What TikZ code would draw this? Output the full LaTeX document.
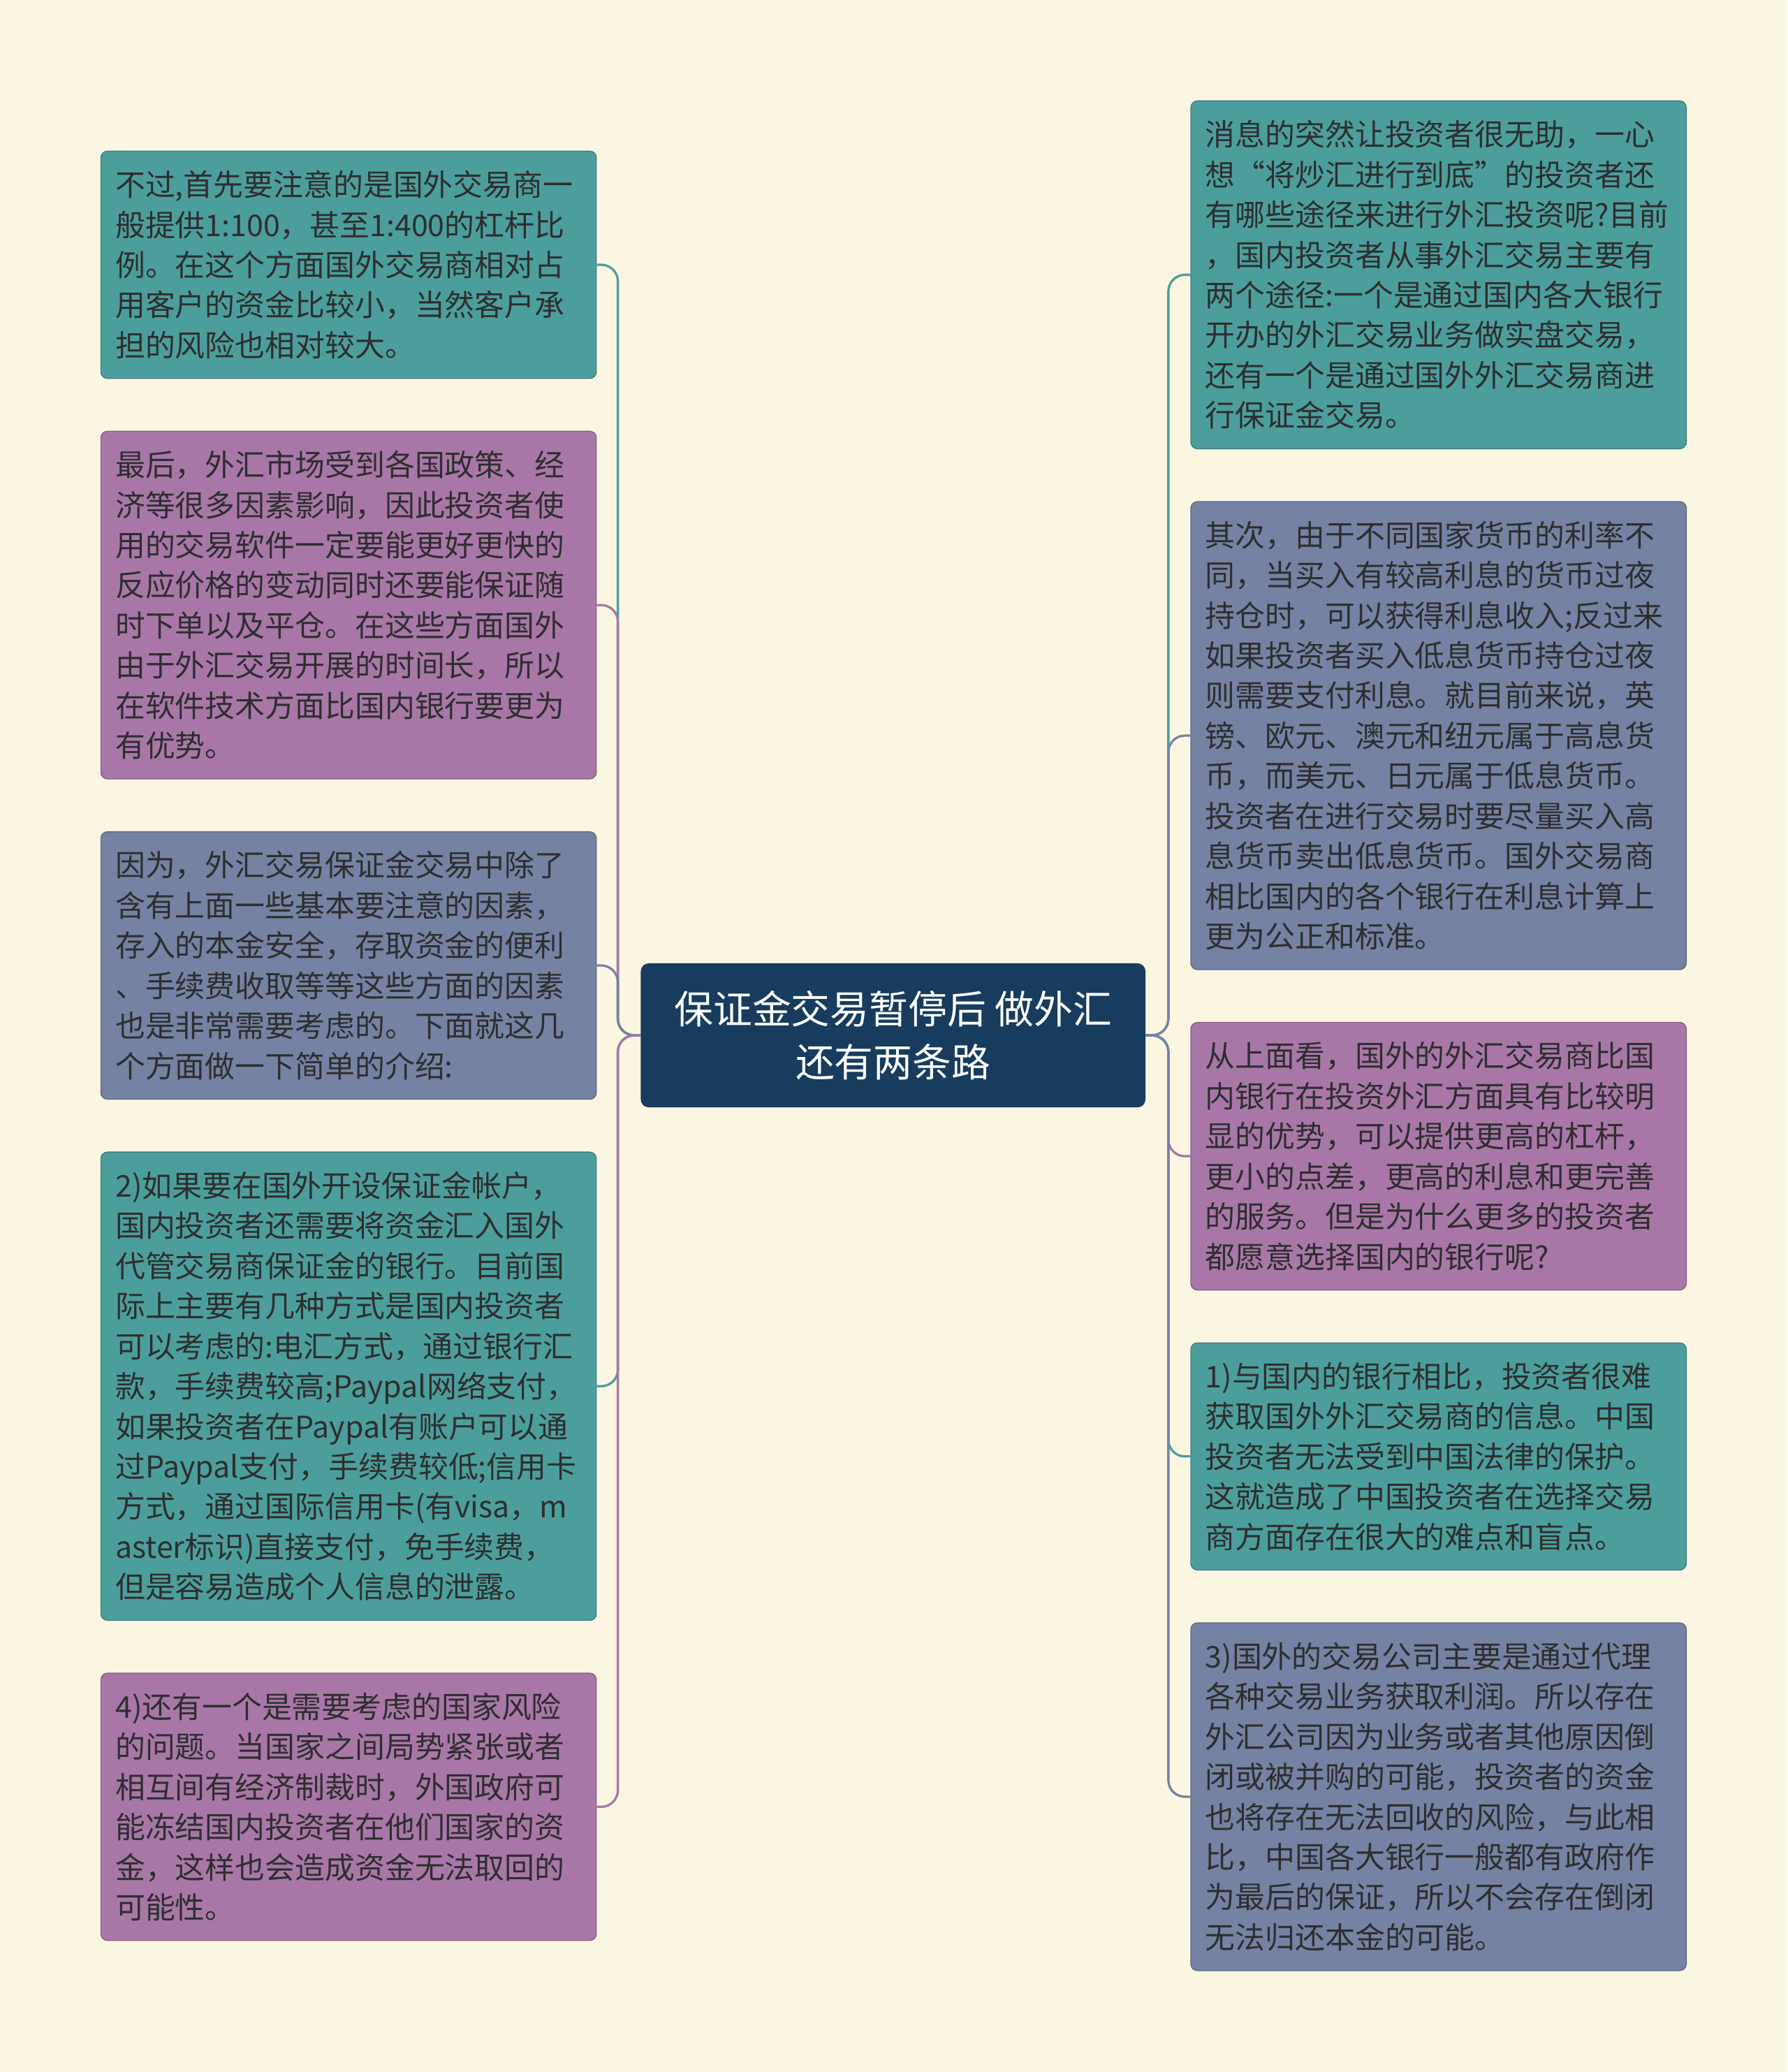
\documentclass[tikz,border=0pt]{standalone}
\usepackage{fontspec}
\newfontfamily\cjkfont{Noto Sans CJK SC}
\usetikzlibrary{positioning}
\usepackage{xcolor}
\definecolor{bgcream}{HTML}{FBF6E1}
\definecolor{tealbox}{HTML}{4C9E9D}
\definecolor{plumbox}{HTML}{A877A8}
\definecolor{slatebox}{HTML}{7582A3}
\definecolor{navybox}{HTML}{173C5D}
\definecolor{inktext}{HTML}{2E2E2E}

\begin{document}
\begin{tikzpicture}[
    leaf/.style={rounded corners=0.1cm, draw=#1!80!black, line width=0.4pt, fill=#1,
        text=inktext, align=left, text width=7.06cm, inner xsep=0.22cm, inner ysep=0.295cm,
        font={\cjkfont\fontsize{12.9}{17.28}\selectfont}},
    hub/.style={rounded corners=0.12cm, fill=navybox, text=white, align=center,
        minimum width=7.64cm, minimum height=2.18cm,
        font={\cjkfont\fontsize{16.8}{22.8}\selectfont}},
    link/.style={draw=#1, line width=1pt, rounded corners=0.25cm}
]
    % Background
    \fill[bgcream] (0,0) rectangle (27.06,-31.36);

    % Central topic
    \node[hub] (hub) at (13.52,-15.67) {保证金交易暂停后 做外汇\\还有两条路};

    % Left branch
    \node[leaf=tealbox, anchor=north west] (lone) at (1.52,-2.28)
        {不过,首先要注意的是国外交易商一\\般提供1:100，甚至1:400的杠杆比\\例。在这个方面国外交易商相对占\\用客户的资金比较小，当然客户承\\担的风险也相对较大。};
    \node[leaf=plumbox, below=0.785cm of lone] (ltwo)
        {最后，外汇市场受到各国政策、经\\济等很多因素影响，因此投资者使\\用的交易软件一定要能更好更快的\\反应价格的变动同时还要能保证随\\时下单以及平仓。在这些方面国外\\由于外汇交易开展的时间长，所以\\在软件技术方面比国内银行要更为\\有优势。};
    \node[leaf=slatebox, below=0.785cm of ltwo] (lthree)
        {因为，外汇交易保证金交易中除了\\含有上面一些基本要注意的因素，\\存入的本金安全，存取资金的便利\\、手续费收取等等这些方面的因素\\也是非常需要考虑的。下面就这几\\个方面做一下简单的介绍:};
    \node[leaf=tealbox, below=0.785cm of lthree] (lfour)
        {2)如果要在国外开设保证金帐户，\\国内投资者还需要将资金汇入国外\\代管交易商保证金的银行。目前国\\际上主要有几种方式是国内投资者\\可以考虑的:电汇方式，通过银行汇\\款，手续费较高;Paypal网络支付，\\如果投资者在Paypal有账户可以通\\过Paypal支付，手续费较低;信用卡\\方式，通过国际信用卡(有visa，m\\aster标识)直接支付，免手续费，\\但是容易造成个人信息的泄露。};
    \node[leaf=plumbox, below=0.785cm of lfour] (lfive)
        {4)还有一个是需要考虑的国家风险\\的问题。当国家之间局势紧张或者\\相互间有经济制裁时，外国政府可\\能冻结国内投资者在他们国家的资\\金，这样也会造成资金无法取回的\\可能性。};

    % Right branch
    \node[leaf=tealbox, anchor=north west] (rone) at (18.02,-1.52)
        {消息的突然让投资者很无助，一心\\想“将炒汇进行到底”的投资者还\\有哪些途径来进行外汇投资呢?目前\\，国内投资者从事外汇交易主要有\\两个途径:一个是通过国内各大银行\\开办的外汇交易业务做实盘交易，\\还有一个是通过国外外汇交易商进\\行保证金交易。};
    \node[leaf=slatebox, below=0.785cm of rone] (rtwo)
        {其次，由于不同国家货币的利率不\\同，当买入有较高利息的货币过夜\\持仓时，可以获得利息收入;反过来\\如果投资者买入低息货币持仓过夜\\则需要支付利息。就目前来说，英\\镑、欧元、澳元和纽元属于高息货\\币，而美元、日元属于低息货币。\\投资者在进行交易时要尽量买入高\\息货币卖出低息货币。国外交易商\\相比国内的各个银行在利息计算上\\更为公正和标准。};
    \node[leaf=plumbox, below=0.785cm of rtwo] (rthree)
        {从上面看，国外的外汇交易商比国\\内银行在投资外汇方面具有比较明\\显的优势，可以提供更高的杠杆，\\更小的点差，更高的利息和更完善\\的服务。但是为什么更多的投资者\\都愿意选择国内的银行呢?};
    \node[leaf=tealbox, below=0.785cm of rthree] (rfour)
        {1)与国内的银行相比，投资者很难\\获取国外外汇交易商的信息。中国\\投资者无法受到中国法律的保护。\\这就造成了中国投资者在选择交易\\商方面存在很大的难点和盲点。};
    \node[leaf=slatebox, below=0.785cm of rfour] (rfive)
        {3)国外的交易公司主要是通过代理\\各种交易业务获取利润。所以存在\\外汇公司因为业务或者其他原因倒\\闭或被并购的可能，投资者的资金\\也将存在无法回收的风险，与此相\\比，中国各大银行一般都有政府作\\为最后的保证，所以不会存在倒闭\\无法归还本金的可能。};

    % Connectors
    \draw[link=tealbox] (hub.west) -- ++(-0.34,0) |- (lone.east);
    \draw[link=plumbox] (hub.west) -- ++(-0.34,0) |- (ltwo.east);
    \draw[link=slatebox] (hub.west) -- ++(-0.34,0) |- (lthree.east);
    \draw[link=tealbox] (hub.west) -- ++(-0.34,0) |- (lfour.east);
    \draw[link=plumbox] (hub.west) -- ++(-0.34,0) |- (lfive.east);
    \draw[link=tealbox] (hub.east) -- ++(0.34,0) |- (rone.west);
    \draw[link=slatebox] (hub.east) -- ++(0.34,0) |- (rtwo.west);
    \draw[link=plumbox] (hub.east) -- ++(0.34,0) |- (rthree.west);
    \draw[link=tealbox] (hub.east) -- ++(0.34,0) |- (rfour.west);
    \draw[link=slatebox] (hub.east) -- ++(0.34,0) |- (rfive.west);
\end{tikzpicture}
\end{document}
